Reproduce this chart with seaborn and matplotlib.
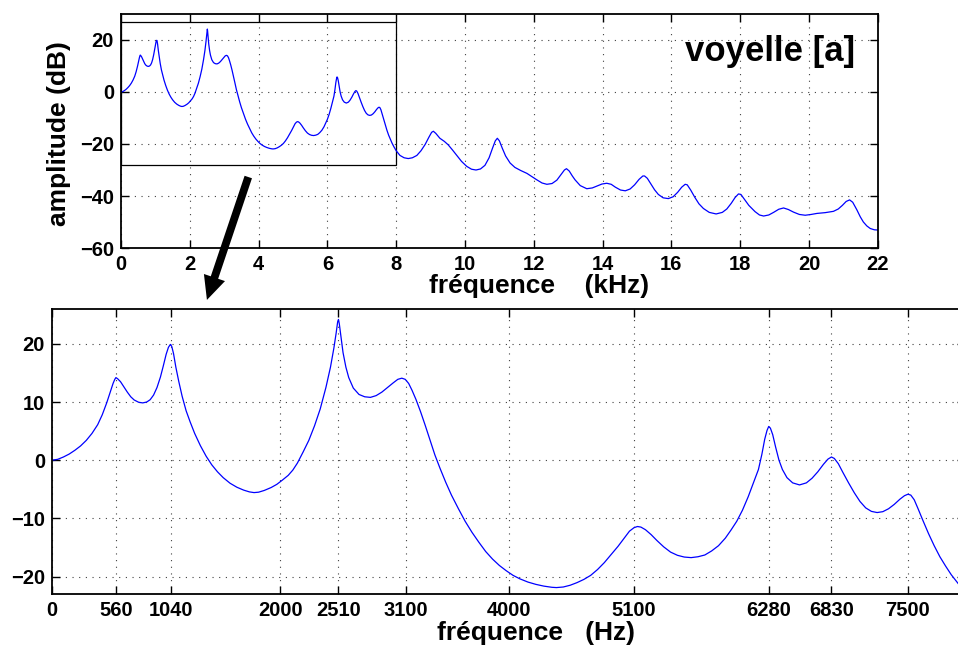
import numpy as np
import pandas as pd
import seaborn as sns
import matplotlib.pyplot as plt
from matplotlib.patches import Rectangle

# spectre de la voyelle [a]
freq_low_hz = [0, 50, 100, 150, 200, 250, 300, 350, 400, 440, 480, 510, 535, 550, 560, 575,
               600, 630, 660, 690, 720, 760, 795, 830, 860, 890, 920, 950, 975, 1000, 1020,
               1035, 1040, 1050, 1065, 1085, 1110, 1140, 1175, 1210, 1250, 1300, 1350, 1400,
               1450, 1500, 1560, 1620, 1680, 1730, 1770, 1810, 1860, 1920, 1970, 2020, 2070,
               2110, 2150, 2200, 2250, 2300, 2350, 2400, 2440, 2470, 2490, 2503, 2510, 2517,
               2530, 2550, 2575, 2600, 2640, 2690, 2740, 2790, 2840, 2890, 2940, 2990, 3030,
               3065, 3095, 3125, 3155, 3190, 3230, 3270, 3310, 3355, 3400, 3450, 3500, 3560,
               3620, 3680, 3740, 3800, 3860, 3920, 3980, 4040, 4100, 4170, 4240, 4310, 4380,
               4420, 4480, 4540, 4600, 4660, 4720, 4780, 4840, 4900, 4960, 5010, 5060, 5100,
               5130, 5160, 5200, 5250, 5300, 5360, 5420, 5480, 5540, 5600, 5660, 5720, 5780,
               5840, 5900, 5950, 6000, 6050, 6100, 6150, 6190, 6220, 6245, 6265, 6280, 6295,
               6315, 6340, 6370, 6400, 6440, 6490, 6550, 6610, 6660, 6710, 6760, 6800, 6830,
               6855, 6890, 6930, 6980, 7030, 7080, 7130, 7180, 7230, 7280, 7330, 7380, 7430,
               7470, 7500, 7525, 7555, 7590, 7630, 7680, 7730, 7780, 7830, 7880, 7935, 8000]
amp_low_db = [0, 0.15, 0.55, 1.05, 1.7, 2.45, 3.4, 4.6, 6.1, 7.8, 9.9, 11.7, 13.2, 13.9, 14.2, 14.0,
              13.5, 12.6, 11.7, 10.9, 10.35, 9.95, 9.85, 10.0, 10.4, 11.2, 12.5, 14.3, 16.2, 18.2, 19.4,
              19.85, 19.9, 19.5, 18.3, 16.0, 13.6, 11.0, 8.5, 6.6, 4.6, 2.5, 0.7, -0.8,
              -2.0, -3.0, -3.96, -4.65, -5.15, -5.45, -5.57, -5.5, -5.2, -4.7, -4.15, -3.4, -2.6,
              -1.7, -0.5, 1.4, 3.4, 5.9, 8.8, 12.5, 16.0, 19.3, 21.9, 23.8, 24.2, 23.5,
              21.5, 18.5, 16.0, 14.2, 12.4, 11.3, 10.9, 10.8, 11.1, 11.7, 12.5, 13.3, 13.9,
              14.1, 13.9, 13.2, 12.0, 10.4, 8.3, 6.0, 3.6, 0.9, -1.4, -3.8, -6.0, -8.3,
              -10.5, -12.4, -14.1, -15.7, -17.0, -18.1, -19.0, -19.8, -20.4, -20.95, -21.35, -21.65, -21.85,
              -21.9, -21.8, -21.5, -21.05, -20.5, -19.8, -18.8, -17.6, -16.2, -14.8, -13.5, -12.2, -11.6,
              -11.4, -11.5, -11.95, -12.8, -13.8, -14.9, -15.8, -16.35, -16.65, -16.75, -16.6, -16.3, -15.6,
              -14.7, -13.4, -12.0, -10.5, -8.6, -6.3, -3.7, -1.6, 1.0, 3.6, 5.1, 5.8, 5.5,
              4.4, 2.3, 0.0, -1.6, -3.0, -3.9, -4.25, -3.9, -3.1, -2.0, -0.7, 0.2, 0.55,
              0.3, -0.6, -2.1, -3.9, -5.6, -7.1, -8.2, -8.8, -9.0, -8.85, -8.35, -7.6, -6.7,
              -6.1, -5.85, -6.0, -6.8, -8.4, -10.3, -12.6, -14.7, -16.6, -18.2, -19.7, -21.1, -22.6]

freq_high_hz = [8110, 8230, 8350, 8470, 8600, 8720, 8840, 8950, 9030, 9080, 9150, 9270, 9400,
                9510, 9630, 9760, 9900, 10050, 10190, 10320, 10450, 10580, 10700, 10800, 10880,
                10940, 11000, 11080, 11180, 11310, 11450, 11620, 11800, 11950, 12090, 12240,
                12380, 12530, 12670, 12800, 12890, 12950, 13030, 13120, 13200, 13350, 13540,
                13700, 13830, 13980, 14120, 14250, 14370, 14520, 14660, 14800, 14930, 15060,
                15170, 15220, 15300, 15400, 15510, 15620, 15760, 15910, 16050, 16180, 16300,
                16400, 16460, 16560, 16680, 16800, 16930, 17100, 17300, 17480, 17610, 17740,
                17850, 17950, 18020, 18120, 18250, 18430, 18560, 18680, 18830, 18970, 19120,
                19260, 19400, 19550, 19720, 19890, 20060, 20230, 20470, 20710, 20850, 20970,
                21080, 21180, 21270, 21390, 21490, 21580, 21680, 21780, 21900, 22020]
amp_high_db = [-24.4, -25.3, -25.6, -25.3, -24.4, -22.6, -20.2, -17.4, -15.5, -15.1, -15.9, -17.8, -19.0,
               -20.3, -22.2, -24.4, -26.7, -28.6, -29.7, -30.0, -29.6, -28.2, -25.3, -21.6, -18.8,
               -17.8, -18.8, -21.5, -24.6, -27.3, -29.0, -30.2, -31.3, -32.6, -33.8, -35.0,
               -35.5, -35.2, -33.9, -31.6, -30.0, -29.5, -30.4, -32.3, -33.8, -36.0, -37.2,
               -36.9, -36.2, -35.4, -35.1, -35.5, -36.6, -37.7, -38.0, -37.3, -35.7, -33.6,
               -32.3, -32.3, -33.2, -35.3, -37.6, -39.4, -40.7, -41.0, -40.3, -38.6, -36.6,
               -35.5, -35.7, -37.7, -40.5, -43.0, -44.8, -46.3, -46.9, -46.3, -45.0, -42.8,
               -40.6, -39.2, -39.4, -41.2, -43.6, -46.0, -47.3, -47.7, -47.3, -46.3, -45.1,
               -44.6, -45.2, -46.2, -47.1, -47.4, -47.1, -46.7, -46.4, -45.9, -45.0, -43.6,
               -42.1, -41.5, -42.4, -45.3, -48.0, -50.0, -51.5, -52.5, -53.0, -53.1]

formant_ticks = [0, 560, 1040, 2000, 2510, 3100, 4000, 5100, 6280, 6830, 7500]

df = pd.DataFrame({"f": freq_low_hz + freq_high_hz, "db": amp_low_db + amp_high_db})
df["khz"] = df["f"] / 1000
df_low = df[df["f"] <= 8000]

sns.set_style("ticks")
plt.rcParams["font.family"] = ["Liberation Sans", "DejaVu Sans"]
plt.rcParams["font.weight"] = "bold"
plt.rcParams["axes.labelweight"] = "bold"
plt.rcParams["text.color"] = "k"
plt.rcParams["axes.labelcolor"] = "k"
plt.rcParams["xtick.color"] = "k"
plt.rcParams["ytick.color"] = "k"

fig = plt.figure(figsize=(9.58, 6.45), dpi=100)
ax1 = fig.add_axes([0.1263, 0.6155, 0.790, 0.3628])
ax2 = fig.add_axes([0.0543, 0.0791, 0.953, 0.4419])

for ax in (ax1, ax2):
    ax.grid(True, color="0.25", linestyle=(0, (1, 5)), linewidth=0.8)
    ax.tick_params(direction="in", length=6, width=1, top=True, right=True,
                   labelsize=14.5, pad=5)
    for s in ax.spines.values():
        s.set_linewidth(1.3)
        s.set_color("k")

# spectre complet
sns.lineplot(data=df, x="khz", y="db", ax=ax1, color="blue", linewidth=0.9,
             estimator=None, sort=False)
ax1.set_xlim(0, 22)
ax1.set_ylim(-60, 30)
ax1.set_xticks(np.arange(0, 23, 2))
ax1.set_yticks([-60, -40, -20, 0, 20])
ax1.set_xlabel("fréquence    (kHz)", fontsize=19)
ax1.set_ylabel("amplitude (dB)", fontsize=19)
ax1.xaxis.set_label_coords(0.552, -0.112)
ax1.yaxis.set_label_coords(-0.066, 0.487)
ax1.text(21.35, 15.4, "voyelle [a]", fontsize=25, fontweight="bold", ha="right", va="center")
ax1.add_patch(Rectangle((0, -28), 8, 55, fill=False, edgecolor="k", linewidth=0.9))

ax1.annotate("", xy=(0.216, 0.535), xycoords="figure fraction",
             xytext=(3.7, -32.7), textcoords="data", annotation_clip=False,
             arrowprops=dict(arrowstyle="simple,head_length=0.85,head_width=0.8,tail_width=0.28",
                             mutation_scale=20, color="k", lw=0, shrinkA=0, shrinkB=0))

# zoom 0-8 kHz
sns.lineplot(data=df_low, x="f", y="db", ax=ax2, color="blue", linewidth=0.9,
             estimator=None, sort=False)
ax2.set_xlim(0, 8000)
ax2.set_ylim(-23, 26)
ax2.set_xticks(formant_ticks)
ax2.set_yticks([-20, -10, 0, 10, 20])
ax2.set_xlabel("fréquence   (Hz)", fontsize=19)
ax2.set_ylabel("")
ax2.xaxis.set_label_coords(0.530, -0.094)

fig.savefig("out.png", dpi=100)
